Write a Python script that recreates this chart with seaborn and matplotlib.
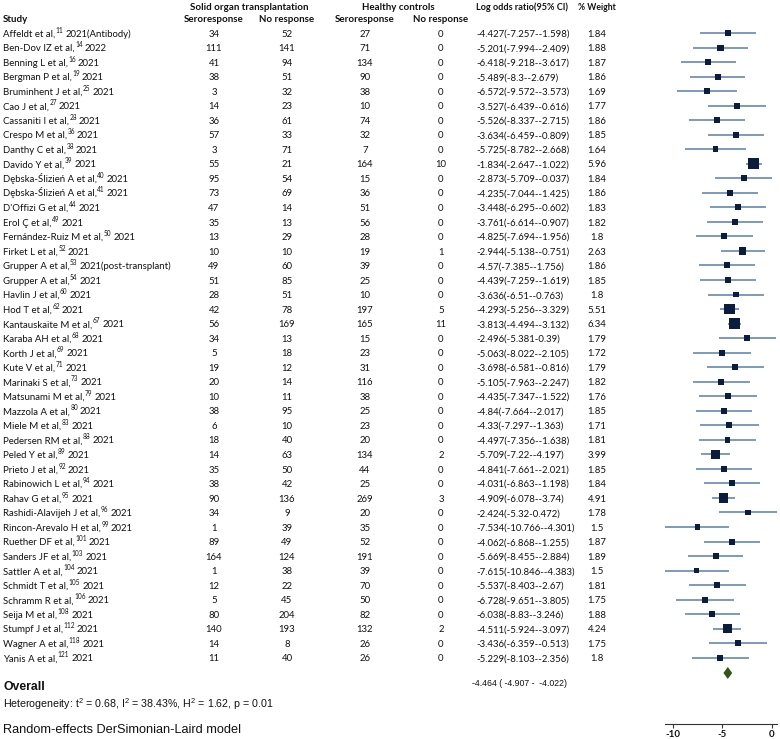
import matplotlib
matplotlib.use("Agg")
import matplotlib.pyplot as plt
import seaborn as sns
import pandas as pd
import numpy as np

# ---------------- data ----------------
study_names = [
    "Affeldt et al,", "Ben-Dov IZ et al,", "Benning L et al,", "Bergman P et al,",
    "Bruminhent J et al,", "Cao J et al,", "Cassaniti I et al,", "Crespo M et al,",
    "Danthy C et al,", "Davido Y et al,", "Dębska-Ślizień A et al,", "Dębska-Ślizień A et al,",
    "D'Offizi G et al,", "Erol Ç et al,", "Fernández-Ruiz M et al,", "Firket L et al,",
    "Grupper A et al,", "Grupper A et al,", "Havlin J et al,", "Hod T et al,",
    "Kantauskaite M et al,", "Karaba AH et al,", "Korth J et al,", "Kute V et al,",
    "Marinaki S et al,", "Matsunami M et al,", "Mazzola A et al,", "Miele M et al,",
    "Pedersen RM et al,", "Peled Y et al,", "Prieto J et al,", "Rabinowich L et al,",
    "Rahav G et al,", "Rashidi-Alavijeh J et al,", "Rincon-Arevalo H et al,", "Ruether DF et al,",
    "Sanders JF et al,", "Sattler A et al,", "Schmidt T et al,", "Schramm R et al,",
    "Seija M et al,", "Stumpf J et al,", "Wagner A et al,", "Yanis A et al,",
]
study_refs = [
    "11", "14", "16", "19", "25", "27", "28", "36", "38", "39", "40", "41",
    "44", "49", "50", "52", "53", "54", "60", "62", "67", "68", "69", "71",
    "73", "79", "80", "83", "88", "89", "92", "94", "95", "96", "99", "101",
    "103", "104", "105", "106", "108", "112", "118", "121",
]
study_years = [
    "2021(Antibody)", "2022", "2021", "2021", "2021", "2021", "2021", "2021",
    "2021", "2021", "2021", "2021", "2021", "2021", "2021", "2021",
    "2021(post-transplant)", "2021", "2021", "2021", "2021", "2021", "2021", "2021",
    "2021", "2021", "2021", "2021", "2021", "2021", "2021", "2021",
    "2021", "2021", "2021", "2021", "2021", "2021", "2021", "2021",
    "2021", "2021", "2021", "2021",
]
sot_sero = [34, 111, 41, 38, 3, 14, 36, 57, 3, 55, 95, 73, 47, 35, 13, 10, 49, 51, 28, 42,
            56, 34, 5, 19, 20, 10, 38, 6, 18, 14, 35, 38, 90, 34, 1, 89, 164, 1, 12, 5,
            80, 140, 14, 11]
sot_nores = [52, 141, 94, 51, 32, 23, 61, 33, 71, 21, 54, 69, 14, 13, 29, 10, 60, 85, 51, 78,
             169, 13, 18, 12, 14, 11, 95, 10, 40, 63, 50, 42, 136, 9, 39, 49, 124, 38, 22, 45,
             204, 193, 8, 40]
hc_sero = [27, 71, 134, 90, 38, 10, 74, 32, 7, 164, 15, 36, 51, 56, 28, 19, 39, 25, 10, 197,
           165, 15, 23, 31, 116, 38, 25, 23, 20, 134, 44, 25, 269, 20, 35, 52, 191, 39, 70, 50,
           82, 132, 26, 26]
hc_nores = [0, 0, 0, 0, 0, 0, 0, 0, 0, 10, 0, 0, 0, 0, 0, 1, 0, 0, 0, 5,
            11, 0, 0, 0, 0, 0, 0, 0, 0, 2, 0, 0, 3, 0, 0, 0, 0, 0, 0, 0,
            0, 2, 0, 0]
log_or = [-4.427, -5.201, -6.418, -5.489, -6.572, -3.527, -5.526, -3.634, -5.725, -1.834,
          -2.873, -4.235, -3.448, -3.761, -4.825, -2.944, -4.57, -4.439, -3.636, -4.293,
          -3.813, -2.496, -5.063, -3.698, -5.105, -4.435, -4.84, -4.33, -4.497, -5.709,
          -4.841, -4.031, -4.909, -2.424, -7.534, -4.062, -5.669, -7.615, -5.537, -6.728,
          -6.038, -4.511, -3.436, -5.229]
ci_low = [-7.257, -7.994, -9.218, -8.3, -9.572, -6.439, -8.337, -6.459, -8.782, -2.647,
          -5.709, -7.044, -6.295, -6.614, -7.694, -5.138, -7.385, -7.259, -6.51, -5.256,
          -4.494, -5.381, -8.022, -6.581, -7.963, -7.347, -7.664, -7.297, -7.356, -7.22,
          -7.661, -6.863, -6.078, -5.32, -10.766, -6.868, -8.455, -10.846, -8.403, -9.651,
          -8.83, -5.924, -6.359, -8.103]
ci_high = [-1.598, -2.409, -3.617, -2.679, -3.573, -0.616, -2.715, -0.809, -2.668, -1.022,
           -0.037, -1.425, -0.602, -0.907, -1.956, -0.751, -1.756, -1.619, -0.763, -3.329,
           -3.132, 0.39, -2.105, -0.816, -2.247, -1.522, -2.017, -1.363, -1.638, -4.197,
           -2.021, -1.198, -3.74, 0.472, -4.301, -1.255, -2.884, -4.383, -2.67, -3.805,
           -3.246, -3.097, -0.513, -2.356]
weights = [1.84, 1.88, 1.87, 1.86, 1.69, 1.77, 1.86, 1.85, 1.64, 5.96,
           1.84, 1.86, 1.83, 1.82, 1.8, 2.63, 1.86, 1.85, 1.8, 5.51,
           6.34, 1.79, 1.72, 1.79, 1.82, 1.76, 1.85, 1.71, 1.81, 3.99,
           1.85, 1.84, 4.91, 1.78, 1.5, 1.87, 1.89, 1.5, 1.81, 1.75,
           1.88, 4.24, 1.75, 1.8]
overall_est = -4.464
overall_low = -4.907
overall_high = -4.022
heterogeneity = "Heterogeneity: t$^2$ = 0.68, I$^2$ = 38.43%, H$^2$ = 1.62, p = 0.01"
model_note = "Random-effects DerSimonian-Laird model"
axis_ticks = [-10, -5, 0]

# ---------------- style ----------------
sns.set_theme(style="white")
plt.rcParams["font.family"] = ["Lato", "DejaVu Sans"]
plt.rcParams["mathtext.default"] = "regular"

W, H = 780, 739
fig = plt.figure(figsize=(W / 100, H / 100), dpi=100)
renderer = fig.canvas.get_renderer()

ROW0, STEP = 33.0, 14.53  # pixel y of first row, row pitch


def yrow(ypix):
    return (ypix - ROW0) / STEP


def fit(t, target_px):
    w = t.get_window_extent(renderer).width
    if w > 0:
        t.set_fontsize(t.get_fontsize() * target_px / w)
    return t


ylim_top = yrow(0)
ylim_bot = yrow(H)

axt = fig.add_axes([0, 0, 1, 1])
axt.set_xlim(0, W)
axt.set_ylim(ylim_bot, ylim_top)
axt.axis("off")

TFONT = ["Lato", "DejaVu Sans"]
TC = "#111111"
HFS = 7.0
bold = dict(fontfamily=TFONT, fontsize=HFS, fontweight="bold", color=TC)

axt.text(249, yrow(7), "Solid organ transplantation", ha="center", va="center", **bold)
axt.text(398, yrow(7), "Healthy controls", ha="center", va="center", **bold)
fit(axt.text(476, yrow(7), "Log odds ratio(95% CI)", ha="left", va="center", **bold), 93)
fit(axt.text(597, yrow(7), "% Weight", ha="center", va="center", **bold), 38)
axt.text(3, yrow(19.5), "Study", ha="left", va="center", **bold)
for xc, s in [(214, "Seroresponse"), (287, "No response"),
              (365, "Seroresponse"), (441, "No response")]:
    axt.text(xc, yrow(19.5), s, ha="center", va="center", **bold)

FS = 6.9
reg = dict(fontfamily=TFONT, fontsize=FS, color=TC)
sup = dict(fontfamily=TFONT, fontsize=FS * 0.68, color=TC)
BL = 0.25
SUP_RAISE = 4.0 / STEP
for i in range(len(study_names)):
    y = i + BL
    t1 = axt.text(3, y, study_names[i], ha="left", va="baseline", **reg)
    x1 = t1.get_window_extent(renderer).x1
    t2 = axt.text(x1 + 0.5, y - SUP_RAISE, study_refs[i], ha="left", va="baseline", **sup)
    x2 = t2.get_window_extent(renderer).x1
    axt.text(x2 + 2.0, y, study_years[i], ha="left", va="baseline", **reg)
    axt.text(214, y, str(sot_sero[i]), ha="center", va="baseline", **reg)
    axt.text(287, y, str(sot_nores[i]), ha="center", va="baseline", **reg)
    axt.text(365, y, str(hc_sero[i]), ha="center", va="baseline", **reg)
    axt.text(441, y, str(hc_nores[i]), ha="center", va="baseline", **reg)
    axt.text(476, y, f"{log_or[i]:g}({ci_low[i]:g}-{ci_high[i]:g})", ha="left",
             va="baseline", **reg)
    axt.text(597, y, f"{weights[i]:g}", ha="center", va="baseline", **reg)

AFONT = ["Liberation Sans", "DejaVu Sans"]
fit(axt.text(3, yrow(687), "Overall", ha="left", va="center", fontfamily=AFONT,
             fontsize=8, fontweight="bold", color=TC), 42)
fit(axt.text(472, yrow(683), f"{overall_est:g} ( {overall_low:g} -  {overall_high:g})",
             ha="left", va="center", fontfamily=AFONT, fontsize=7, color=TC), 95)
fit(axt.text(3, yrow(704), heterogeneity, ha="left", va="center", fontfamily=AFONT,
             fontsize=8, color=TC), 272)
fit(axt.text(3, yrow(730), model_note, ha="left", va="center", fontfamily=AFONT,
             fontsize=8, color=TC), 240)

# forest axis
XMIN, XMAX = -10.85, 0.5
PX_PER_UNIT = 9.9
X0PIX = 772.0
left_pix = X0PIX + XMIN * PX_PER_UNIT
right_pix = X0PIX + XMAX * PX_PER_UNIT
AXIS_Y = 724.0
axf = fig.add_axes([left_pix / W, (H - AXIS_Y) / H, (right_pix - left_pix) / W, AXIS_Y / H])
axf.set_facecolor("none")
axf.set_xlim(XMIN, XMAX)
axf.set_ylim(yrow(AXIS_Y), ylim_top)

df = pd.DataFrame({
    "row": np.arange(len(study_names)),
    "est": log_or, "lo": ci_low, "hi": ci_high, "w": weights,
})

axf.hlines(df["row"], df["lo"], df["hi"], color="#5a7fa8", linewidth=1.1, zorder=1)
k = 10.0
sns.scatterplot(data=df, x="est", y="row", size="w",
                sizes=(k * min(weights), k * max(weights)),
                size_norm=(min(weights), max(weights)),
                marker="s", color="#0c1c3c", edgecolor="none", linewidth=0,
                legend=False, ax=axf, zorder=3)

dy = yrow(679) - yrow(673)
yd = yrow(673)
axf.fill([overall_low, overall_est, overall_high, overall_est],
         [yd, yd - dy, yd, yd + dy], color="#2f5616", zorder=3, linewidth=0)

sns.despine(ax=axf, left=True, top=True, right=True)
axf.spines["bottom"].set_color("#333333")
axf.spines["bottom"].set_linewidth(0.8)
axf.set_yticks([])
axf.set_xticks(axis_ticks)
axf.set_xticklabels([str(t) for t in axis_ticks], fontfamily=TFONT, fontsize=7,
                    fontweight="bold", color=TC)
axf.tick_params(axis="x", direction="out", length=3, width=0.8, color="#333333", pad=1.5,
                bottom=True)
axf.set_xlabel("")
axf.set_ylabel("")
axf.grid(False)

fig.savefig("out.png", dpi=100)
